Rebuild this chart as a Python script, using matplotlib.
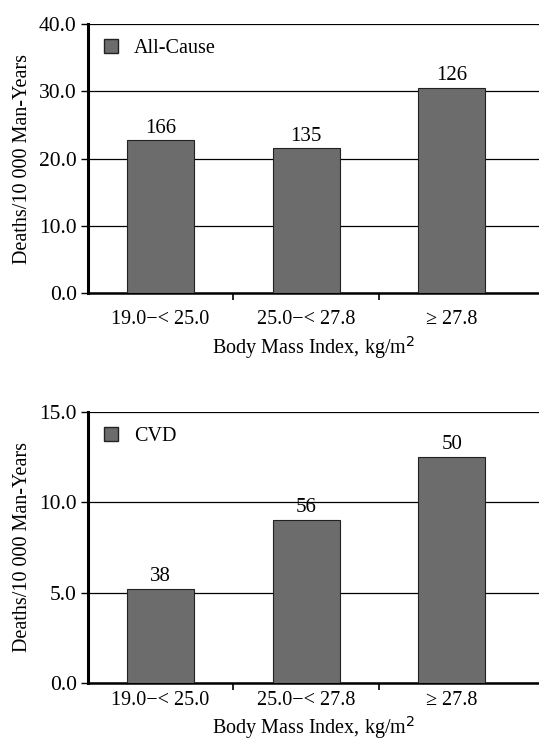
import matplotlib
matplotlib.use("Agg")
import matplotlib.pyplot as plt
from matplotlib.patches import Patch

plt.rcParams['font.family'] = ['Liberation Serif', 'DejaVu Serif']

categories = ['19.0\u2212< 25.0', '25.0\u2212< 27.8', '\u2265 27.8']
all_cause = [22.7, 21.5, 30.5]
all_cause_n = ['166', '135', '126']
cvd = [5.2, 9.0, 12.5]
cvd_n = ['38', '56', '50']

bar_color = '#6c6c6c'


def panel(ax, values, counts, ymax, ystep, name, xpad, lpad):
    xs = range(len(values))
    bars = ax.bar(xs, values, width=0.46, color=bar_color, edgecolor='#222222',
                  linewidth=0.8, zorder=3)
    ax.bar_label(bars, labels=counts, padding=2, fontsize=15)
    ax.set_xlim(-0.5, 2.6)
    ax.set_ylim(0, ymax)
    ticks = [i * ystep for i in range(int(ymax / ystep) + 1)]
    ax.set_yticks(ticks)
    ax.set_yticklabels(['%.1f' % t for t in ticks], fontsize=15.5)
    ax.yaxis.grid(True, color='black', linewidth=0.9, zorder=0)
    ax.set_xticks(list(xs))
    ax.set_xticklabels(categories, fontsize=14.5)
    ax.tick_params(axis='x', length=0, pad=xpad)
    ax.set_xticks([0.5, 1.5], minor=True)
    ax.tick_params(axis='x', which='minor', length=5, width=1.2, direction='out')
    ax.tick_params(axis='y', length=5, width=1.0, direction='out', pad=3)
    for s in ['top', 'right']:
        ax.spines[s].set_visible(False)
    ax.spines['left'].set_linewidth(2.2)
    ax.spines['bottom'].set_linewidth(1.8)
    ax.set_ylabel('Deaths/10 000 Man-Years', fontsize=14.5, labelpad=5)
    ax.set_xlabel('Body Mass Index, kg/m$^2$', fontsize=14.5, labelpad=lpad)
    ax.legend(handles=[Patch(facecolor=bar_color, edgecolor='#222222', label=name)],
              loc='upper left', frameon=False, fontsize=14.5,
              handlelength=0.7, handleheight=0.7, handletextpad=0.8,
              bbox_to_anchor=(-0.005, 1.01))


fig = plt.figure(figsize=(5.39, 7.46), dpi=100)
ax1 = fig.add_axes([0.163, 0.607, 0.837, 0.361])
ax2 = fig.add_axes([0.163, 0.0845, 0.837, 0.3635])

panel(ax1, all_cause, all_cause_n, 40, 10, 'All-Cause', 12, 4)
panel(ax2, cvd, cvd_n, 15, 5, 'CVD', 6, 3)

fig.savefig('out.png', dpi=100)
